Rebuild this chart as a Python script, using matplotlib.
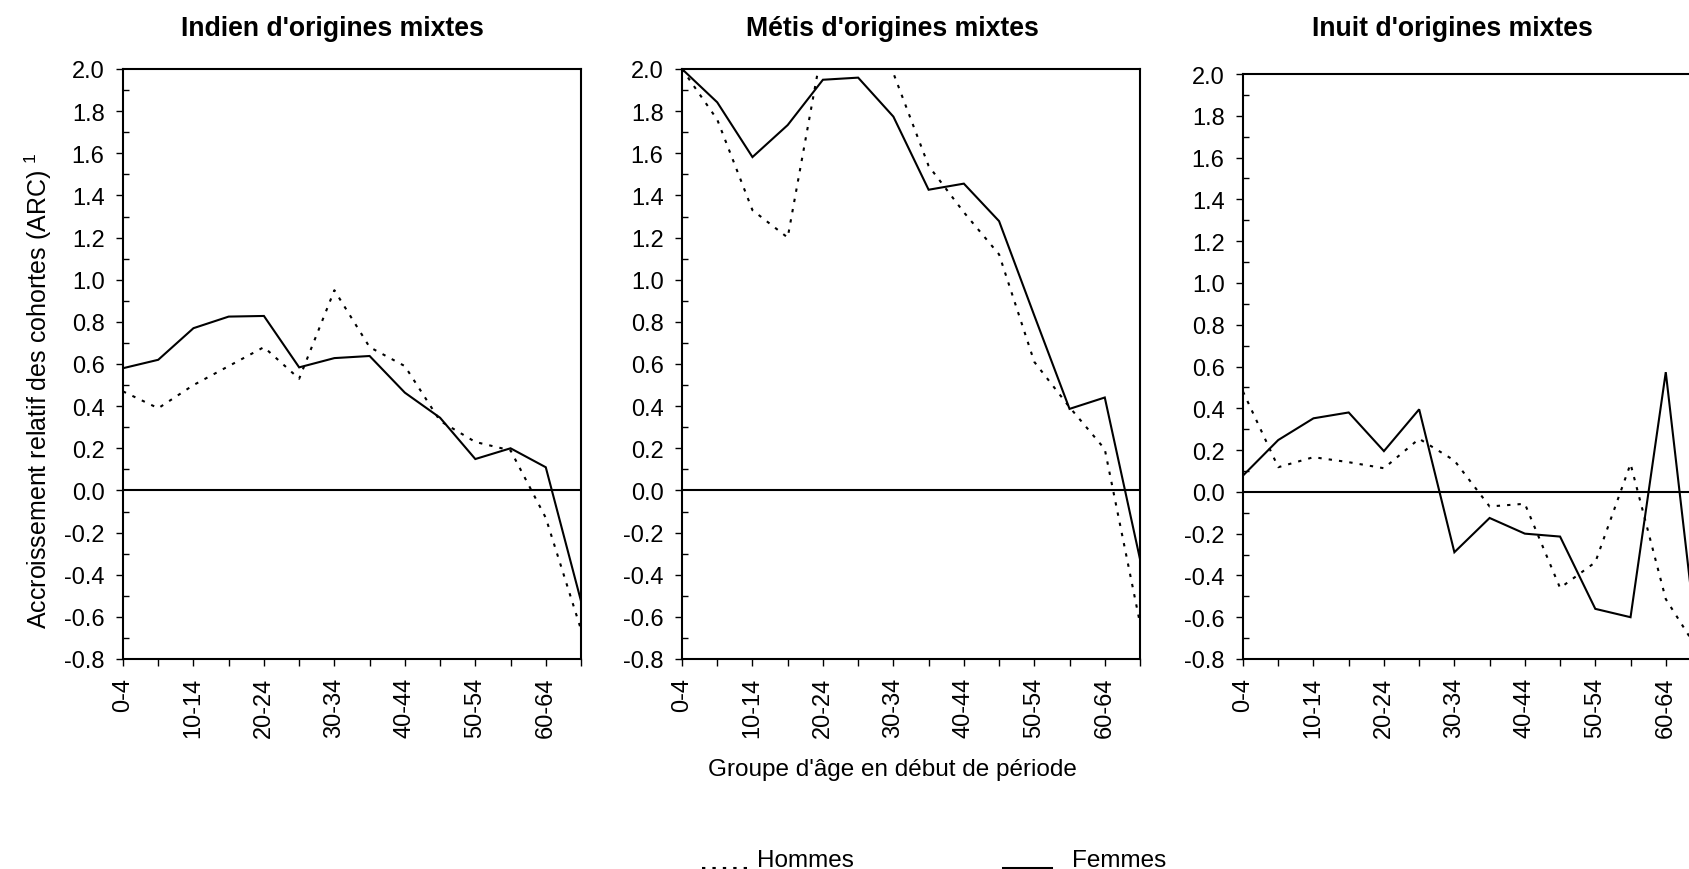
import matplotlib
matplotlib.use("Agg")
import matplotlib.pyplot as plt
from matplotlib.lines import Line2D
from matplotlib.ticker import MultipleLocator, FixedLocator
import numpy as np

plt.rcParams['font.family'] = ['Liberation Sans', 'DejaVu Sans']
plt.rcParams['axes.unicode_minus'] = False
plt.rcParams['mathtext.fontset'] = 'custom'
plt.rcParams['mathtext.rm'] = 'Liberation Sans'

# Age groups at the start of the period
ages = ['0-4', '5-9', '10-14', '15-19', '20-24', '25-29', '30-34',
        '35-39', '40-44', '45-49', '50-54', '55-59', '60-64', '65-69']

# Relative cohort growth (ARC), by sex
indien_hommes = [0.47, 0.39, 0.50, 0.59, 0.68, 0.53, 0.95, 0.68, 0.59, 0.33, 0.23, 0.19, -0.13, -0.66]
indien_femmes = [0.58, 0.62, 0.77, 0.825, 0.828, 0.584, 0.628, 0.638, 0.464, 0.345, 0.149, 0.20, 0.11, -0.525]

metis_hommes = [2.00, 1.76, 1.33, 1.20, 2.12, 2.20, 1.98, 1.54, 1.32, 1.12, 0.61, 0.395, 0.196, -0.63]
metis_femmes = [2.00, 1.842, 1.582, 1.734, 1.949, 1.959, 1.774, 1.427, 1.456, 1.278, 0.83, 0.387, 0.441, -0.326]

inuit_hommes = [0.48, 0.118, 0.166, 0.142, 0.113, 0.254, 0.15, -0.07, -0.057, -0.46, -0.337, 0.134, -0.513, -0.78]
inuit_femmes = [0.078, 0.248, 0.352, 0.38, 0.195, 0.395, -0.289, -0.125, -0.20, -0.214, -0.56, -0.60, 0.573, -0.89]

titles = ["Indien d'origines mixtes", "Métis d'origines mixtes", "Inuit d'origines mixtes"]
series_hommes = [indien_hommes, metis_hommes, inuit_hommes]
series_femmes = [indien_femmes, metis_femmes, inuit_femmes]

W, H = 1690, 870
fig = plt.figure(figsize=(W / 100, H / 100), dpi=100)


def box(left, top, right, bottom):
    return [left / W, 1 - bottom / H, (right - left) / W, (bottom - top) / H]


# panel frames in pixels (left, top, right, bottom) and title centres
frames = [(123, 70, 581, 660), (682, 70, 1140, 660), (1243, 75, 1701, 660)]
title_x = [332, 892, 1452]

DOTTED = (0, (1.6, 3.4))
LW = 1.5
FS = 17

x = np.arange(len(ages))
for title, hom, fem, fr, tx in zip(titles, series_hommes, series_femmes, frames, title_x):
    ax = fig.add_axes(box(*fr))
    ax.plot(x, fem, color='black', lw=LW, solid_joinstyle='miter')
    ax.plot(x, hom, color='black', lw=LW, linestyle=DOTTED)
    ax.axhline(0, color='black', lw=LW)
    ax.set_xlim(0, len(ages) - 1)
    ax.set_ylim(-0.8, 2.0)

    ax.xaxis.set_major_locator(FixedLocator(x))
    ax.set_xticklabels([a if i % 2 == 0 else '' for i, a in enumerate(ages)],
                       rotation=90, fontsize=FS)
    ax.yaxis.set_major_locator(MultipleLocator(0.2))
    ax.yaxis.set_minor_locator(MultipleLocator(0.1))
    ax.set_yticklabels([f"{v:.1f}" for v in ax.get_yticks()], fontsize=FS)
    ax.set_ylim(-0.8, 2.0)

    ax.tick_params(axis='x', which='major', direction='out', length=4.8, width=1.0, pad=8)
    ax.tick_params(axis='y', which='major', direction='out', length=5.3, width=1.0, pad=8)
    ax.tick_params(axis='y', which='minor', direction='in', length=4.3, width=1.0)
    for s in ax.spines.values():
        s.set_linewidth(LW)

    fig.text(tx / W, 1 - 36 / H, title, ha='center', va='baseline',
             fontsize=19.2, fontweight='bold')

fig.text(38 / W, 1 - 391 / H, "Accroissement relatif des cohortes (ARC) $^{1}$",
         rotation=90, ha='center', va='center', fontsize=18)

fig.text(892 / W, 1 - 776 / H, "Groupe d'âge en début de période",
         ha='center', va='baseline', fontsize=17.5)

# legend drawn along the bottom edge
fig.add_artist(Line2D([702 / W, 752 / W], [1 - 868.5 / H] * 2, transform=fig.transFigure,
                      color='black', lw=LW, linestyle=DOTTED))
fig.text(757 / W, 1 - 867 / H, "Hommes", ha='left', va='baseline', fontsize=17.5)
fig.add_artist(Line2D([1003 / W, 1051 / W], [1 - 868.5 / H] * 2, transform=fig.transFigure,
                      color='black', lw=2.2))
fig.text(1072 / W, 1 - 867 / H, "Femmes", ha='left', va='baseline', fontsize=17.5)

fig.savefig("out.png", dpi=100, facecolor='white')
